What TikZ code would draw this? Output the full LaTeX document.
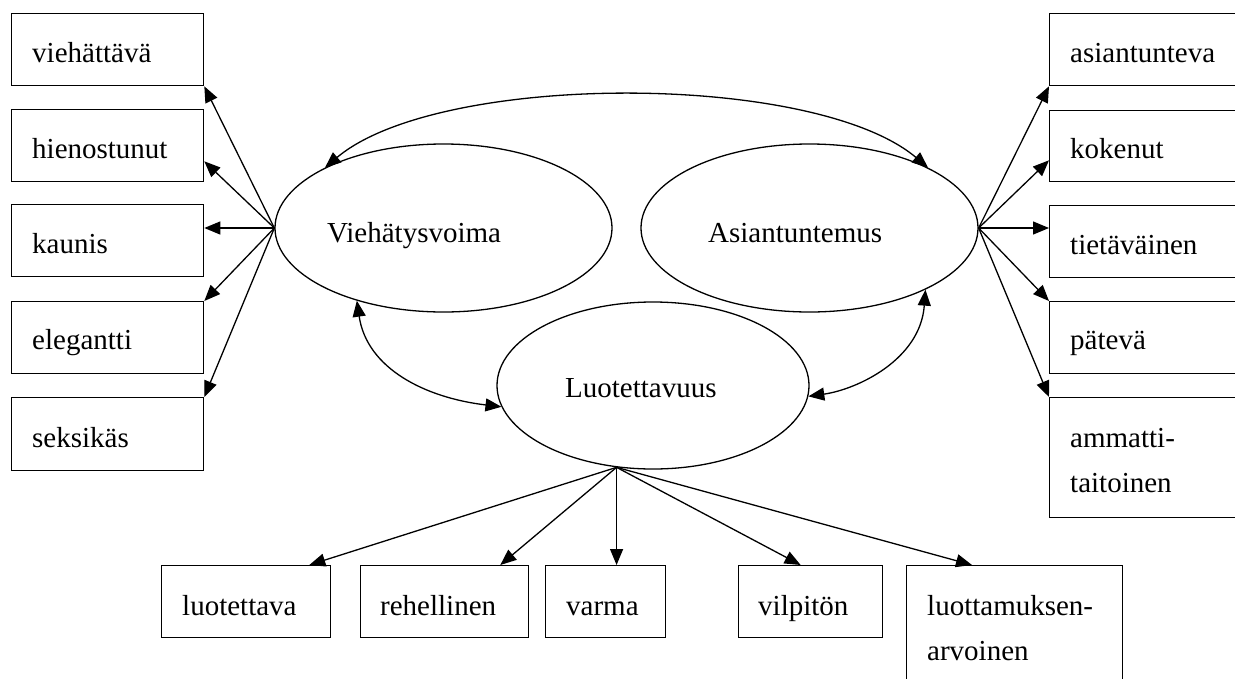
\documentclass[tikz,border=0pt]{standalone}
\usepackage{fontspec}
\setmainfont{Liberation Serif}
\usetikzlibrary{calc,arrows.meta,shapes.geometric}
\begin{document}
\begin{tikzpicture}[x=1pt,y=-1pt,
  box/.style={draw, line width=1.3pt, rectangle, inner sep=0pt, anchor=north west},
  latent/.style={draw, line width=1.3pt, ellipse, inner sep=0pt,
                 minimum width=337pt, minimum height=168pt},
  word/.style={anchor=base west, inner sep=0pt,
               font=\fontsize{29}{45}\selectfont, align=left},
  link/.style={line width=1.3pt, -{Triangle[length=16pt,width=13pt]}},
  both/.style={line width=1.3pt,
               {Triangle[length=16pt,width=13pt]}-{Triangle[length=16pt,width=13pt]}}]
\useasboundingbox (0,0) rectangle (1235,678);
\clip (0,0) rectangle (1235,678);

% latent factors
\node[latent] (V) at (443.5,228) {};
\node[latent] (A) at (809.5,228) {};
\node[latent, minimum width=312pt, minimum height=167pt] (L) at (653,385.5) {};
\node[word] (Vt) at (327,242) {Viehätysvoima};
\node[word] (At) at (708,242) {Asiantuntemus};
\node[word] (Lt) at (565,397) {Luotettavuus};

% indicators of Viehätysvoima
\node[box, minimum width=192pt, minimum height=72pt] (b1) at (11,13) {};
\node[box, minimum width=192pt, minimum height=72pt] (b2) at (11,109) {};
\node[box, minimum width=192pt, minimum height=72pt] (b3) at (11,204) {};
\node[box, minimum width=192pt, minimum height=72pt] (b4) at (11,301) {};
\node[box, minimum width=192pt, minimum height=73pt] (b5) at (11,397) {};
\node[word] (w1) at ($(b1.north west)+(21,49)$) {viehättävä};
\node[word] (w2) at ($(b2.north west)+(21,49)$) {hienostunut};
\node[word] (w3) at ($(b3.north west)+(21,49)$) {kaunis};
\node[word] (w4) at ($(b4.north west)+(21,48)$) {elegantti};
\node[word] (w5) at ($(b5.north west)+(21,50)$) {seksikäs};

% indicators of Asiantuntemus
\node[box, minimum width=220pt, minimum height=72pt] (r1) at (1049,13) {};
\node[box, minimum width=220pt, minimum height=71pt] (r2) at (1049,110) {};
\node[box, minimum width=220pt, minimum height=72pt] (r3) at (1049,205) {};
\node[box, minimum width=220pt, minimum height=72pt] (r4) at (1049,301) {};
\node[box, minimum width=220pt, minimum height=120pt] (r5) at (1049,397) {};
\node[word] (q1) at ($(r1.north west)+(21,49)$) {asiantunteva};
\node[word] (q2) at ($(r2.north west)+(21,48)$) {kokenut};
\node[word] (q3) at ($(r3.north west)+(21,49)$) {tietäväinen};
\node[word] (q4) at ($(r4.north west)+(21,48)$) {pätevä};
% two-line labels: the base anchor sits on the last line
\node[word] (q5) at ($(r5.north west)+(21,95)$) {ammatti-\\taitoinen};

% indicators of Luotettavuus
\node[box, minimum width=169pt, minimum height=72pt] (d1) at (161,565) {};
\node[box, minimum width=168pt, minimum height=72pt] (d2) at (360,565) {};
\node[box, minimum width=120pt, minimum height=72pt] (d3) at (545,565) {};
\node[box, minimum width=144pt, minimum height=72pt] (d4) at (738,565) {};
\node[box, minimum width=216pt, minimum height=130pt] (d5) at (906,565) {};
\node[word] (p1) at ($(d1.north west)+(21,50)$) {luotettava};
\node[word] (p2) at ($(d2.north west)+(20,50)$) {rehellinen};
\node[word] (p3) at ($(d3.north west)+(21,50)$) {varma};
\node[word] (p4) at ($(d4.north west)+(20,50)$) {vilpitön};
\node[word] (p5) at ($(d5.north west)+(21,95)$) {luottamuksen-\\arvoinen};

% hubs where the loadings leave the factors
\coordinate (vh) at (V.west);
\coordinate (ah) at (A.east);
\coordinate (lh) at (L.246);

\draw[link] (vh) -- (b1.south east);
\draw[link] (vh) -- ($(b2.south east)+(0,-21)$);
\draw[link] (vh) -- (b3.east |- vh);
\draw[link] (vh) -- (b4.north east);
\draw[link] (vh) -- (b5.north east);

\draw[link] (ah) -- (r1.south west);
\draw[link] (ah) -- ($(r2.south west)+(0,-22)$);
\draw[link] (ah) -- (r3.west |- ah);
\draw[link] (ah) -- (r4.north west);
\draw[link] (ah) -- (r5.north west);

\draw[link] (lh) -- ($(d1.north east)+(-22,0)$);
\draw[link] (lh) -- ($(d2.north east)+(-29,0)$);
\draw[link] (lh) -- (lh |- d3.north);
\draw[link] (lh) -- ($(d4.north)+(-10,0)$);
\draw[link] (lh) -- ($(d5.north west)+(66,0)$);

% correlations between the factors
\draw[both] (V.153) .. controls ($(V.153)+(114,-96)$) and ($(A.27)+(-114,-96)$) .. (A.27);
\draw[both] (V.220) .. controls ($(V.220)+(10,68)$) and ($(L.188)+(-76,-9)$) .. (L.188);
\draw[both] (A.332) .. controls ($(A.332)+(-5,70)$) and ($(L.356)+(49,-7)$) .. (L.356);
\end{tikzpicture}
\end{document}
